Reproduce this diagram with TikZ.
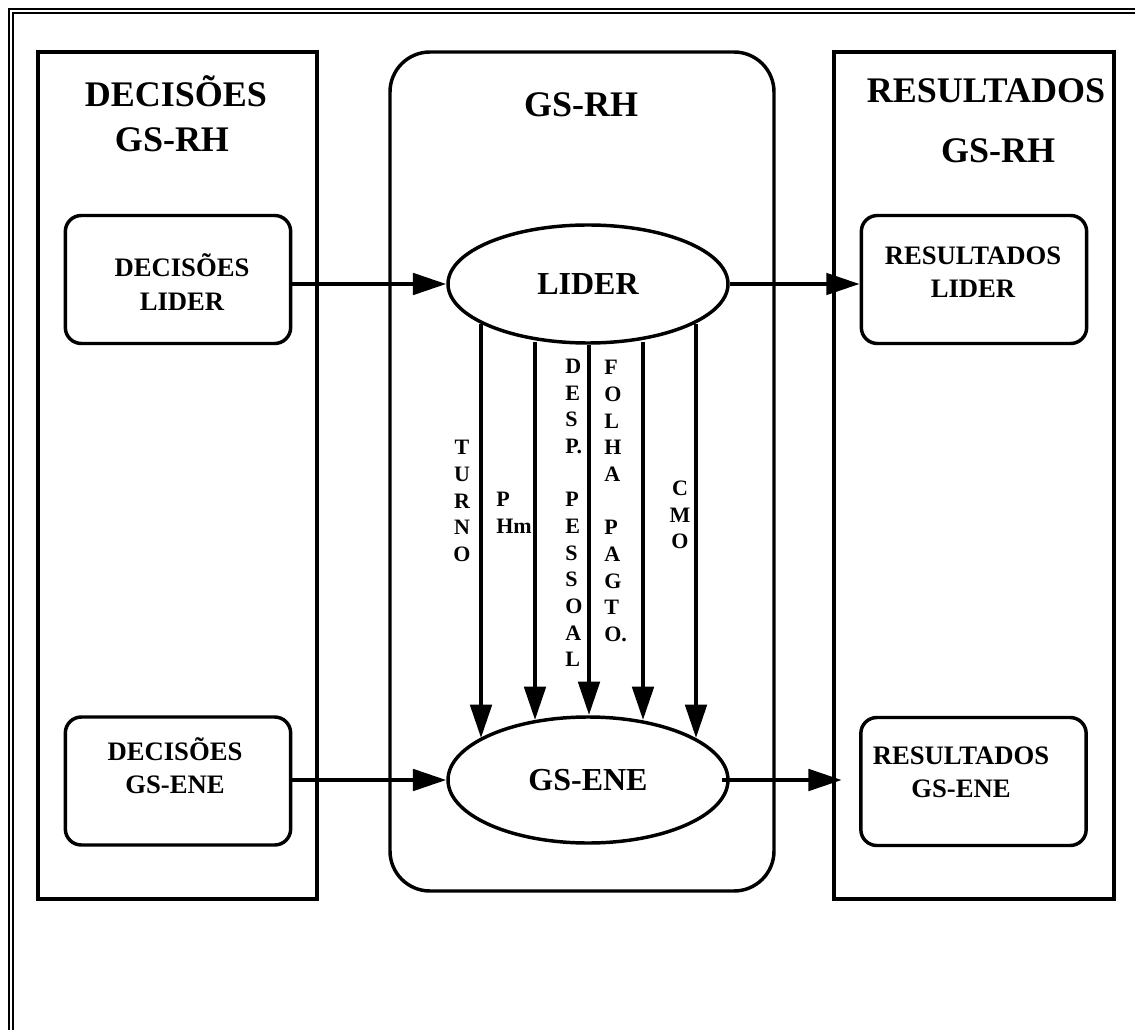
\documentclass[tikz,border=0pt]{standalone}
\usepackage{fontspec}
\setmainfont{Liberation Serif}
\usetikzlibrary{arrows.meta,shapes.geometric,calc}
\begin{document}
\begin{tikzpicture}[x=0.75pt,y=-0.75pt,
  heavy/.style={line width=2.6pt},
  frameline/.style={line width=1.5pt},
  arr/.style={line width=3pt,-{Triangle[length=25pt,width=16pt]}},
  ttl/.style={font=\fontsize{27}{32}\selectfont\bfseries,inner sep=0pt,anchor=base},
  btxt/.style={font=\fontsize{20}{25}\selectfont\bfseries,align=center,inner sep=0pt},
  vlab/.style={font=\fontsize{16.5}{20}\selectfont\bfseries,inner sep=0pt},
  rbox/.style={draw,heavy,rounded corners=12pt,inner sep=0pt,
               minimum width=169pt,minimum height=96pt},
  oval/.style={draw,heavy,ellipse,inner sep=0pt,minimum width=210pt,
               font=\fontsize{24}{28}\selectfont\bfseries}]
\useasboundingbox (0,0) rectangle (1135,1030);
\clip (0,0) rectangle (1135,1030);

% double page frame
\draw[frameline] (9,9) rectangle (1170,1070);
\draw[frameline] (13,13) rectangle (1166,1066);

% the three columns
\draw[heavy] (38,52) rectangle (317,899);
\draw[heavy,rounded corners=30pt] (390,52) rectangle (774,891);
\draw[heavy] (834,52) rectangle (1114,899);

% column titles
\node[ttl] (t1a) at (176,107) {DECISÕES};
\node[ttl] (t1b) at (172,152) {GS-RH};
\node[ttl] (t2) at (581,117) {GS-RH};
\node[ttl] (t3a) at (986,103) {RESULTADOS};
\node[ttl] (t3b) at (998,163) {GS-RH};

% decision and result boxes
\node[rbox] (DL) at (178,279.5) {};
\node[rbox] (RL) at (974,279.5) {};
\node[rbox] (DE) at (178,781) {};
\node[rbox] (RG) at (973.5,781.5) {};
\node[btxt] (tdl) at (182,282) {DECISÕES\\LIDER};
\node[btxt] (trl) at (973,272) {RESULTADOS\\LIDER};
\node[btxt] (tde) at (175,766) {DECISÕES\\GS-ENE};
\node[btxt] (trg) at (961,772) {RESULTADOS\\GS-ENE};

% the two agents
\node[oval,minimum height=88.5pt] (L) at (588,284) {LIDER};
\node[oval,minimum height=94.5pt] (E) at (588,780) {GS-ENE};

% inputs and outputs
\draw[arr] (DL.east |- L.west) -- (L.west);
\draw[arr] (L.east) -- (L.east -| RL.west);
\draw[arr] (DE.east |- E.west) -- (E.west);
\draw[arr] ([xshift=-6pt]E.east) -- ([xshift=-13pt]E.east -| RG.west);

% flows from LIDER to GS-ENE
\draw[arr] ($(L.center)+(-107,40)$) -- ($(E.center)+(-107,-42)$);
\draw[arr] ($(L.center)+(-53,58)$) -- ($(E.center)+(-53,-60)$);
\draw[arr] ($(L.center)+(1,61)$) -- ($(E.center)+(1,-65)$);
\draw[arr] ($(L.center)+(55,58)$) -- ($(E.center)+(55,-60)$);
\draw[arr] ($(L.center)+(108,40)$) -- ($(E.center)+(108,-42)$);

% flow labels, one letter per line
\node[vlab,align=center] (lturno) at (462,501) {T\\U\\R\\N\\O};
\node[vlab,align=left,anchor=west] (lphm) at (496,513) {P\\Hm};
\node[vlab,align=left,anchor=west] (ldesp) at (565,513)
  {D\\E\\S\\P.\\\mbox{}\\P\\E\\S\\S\\O\\A\\L};
\node[vlab,align=left,anchor=west] (lfolha) at (604,501)
  {F\\O\\L\\H\\A\\\mbox{}\\P\\A\\G\\T\\O.};
\node[vlab,align=center] (lcmo) at (680,515) {C\\M\\O};
\end{tikzpicture}
\end{document}
